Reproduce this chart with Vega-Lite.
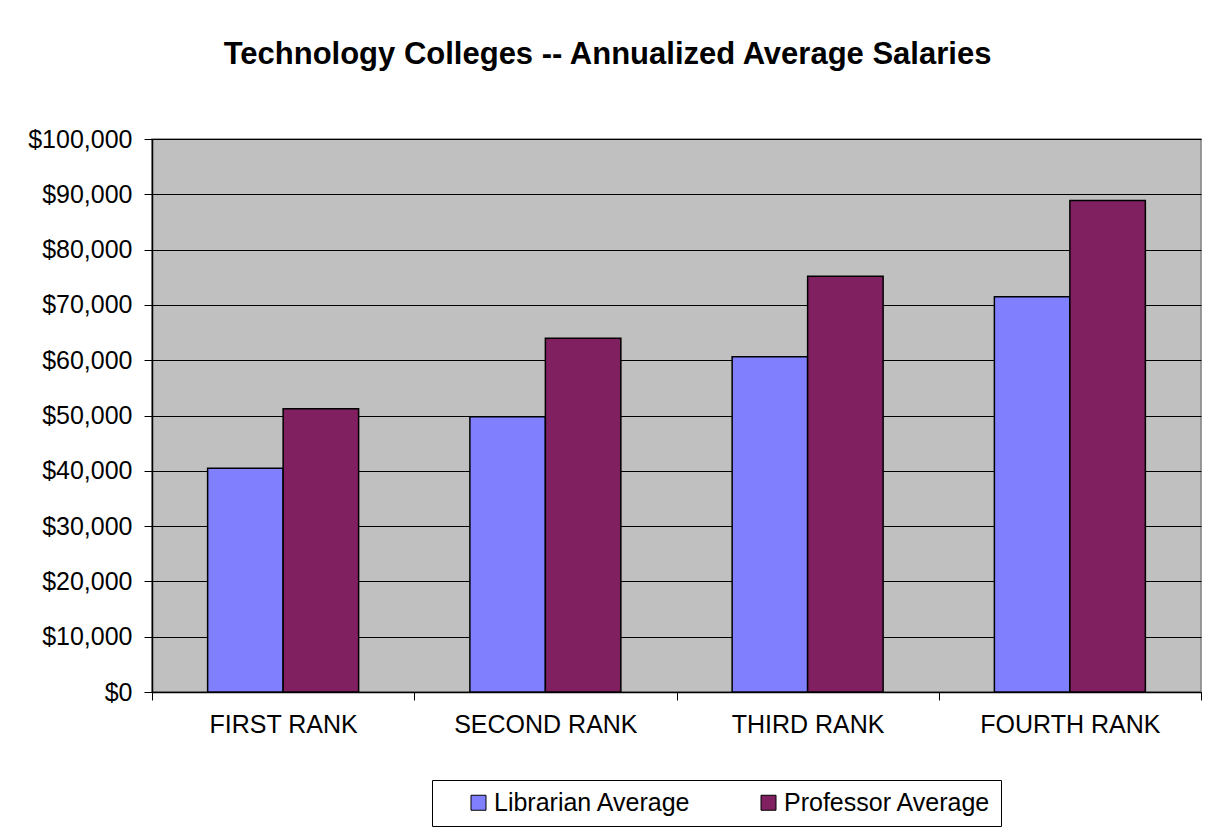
{
  "$schema": "https://vega.github.io/schema/vega-lite/v6.json",
  "autosize": "none",
  "width": 1049,
  "height": 553,
  "padding": {"left": 152, "top": 139, "right": 13, "bottom": 137},
  "background": "white",
  "title": {
    "text": "Technology Colleges -- Annualized Average Salaries",
    "font": "Liberation Sans",
    "fontSize": 31,
    "fontWeight": "bold",
    "color": "black",
    "anchor": "middle",
    "baseline": "alphabetic",
    "dx": -69,
    "offset": 32
  },
  "data": {
    "values": [
      {"rank": "FIRST RANK", "series": "Librarian Average", "salary": 40450},
      {"rank": "FIRST RANK", "series": "Professor Average", "salary": 51230},
      {"rank": "SECOND RANK", "series": "Librarian Average", "salary": 49790},
      {"rank": "SECOND RANK", "series": "Professor Average", "salary": 63960},
      {"rank": "THIRD RANK", "series": "Librarian Average", "salary": 60630},
      {"rank": "THIRD RANK", "series": "Professor Average", "salary": 75170},
      {"rank": "FOURTH RANK", "series": "Librarian Average", "salary": 71480},
      {"rank": "FOURTH RANK", "series": "Professor Average", "salary": 88900}
    ]
  },
  "mark": {"type": "bar", "stroke": "black", "strokeWidth": 1.5},
  "encoding": {
    "x": {
      "field": "rank",
      "type": "nominal",
      "sort": ["FIRST RANK", "SECOND RANK", "THIRD RANK", "FOURTH RANK"],
      "scale": {"paddingInner": 0, "paddingOuter": 0},
      "axis": {
        "title": null,
        "labelAngle": 0,
        "labelFont": "Liberation Sans",
        "labelFontSize": 25,
        "labelColor": "black",
        "labelPadding": 12,
        "labelLimit": 400,
        "tickBand": "extent",
        "tickSize": 8,
        "tickColor": "black",
        "domainColor": "black",
        "domainWidth": 1.5,
        "grid": false
      }
    },
    "xOffset": {
      "field": "series",
      "type": "nominal",
      "scale": {"paddingInner": 0, "paddingOuter": 0.737}
    },
    "y": {
      "field": "salary",
      "type": "quantitative",
      "scale": {"domain": [0, 100000], "nice": false},
      "axis": {
        "title": null,
        "values": [0, 10000, 20000, 30000, 40000, 50000, 60000, 70000, 80000, 90000, 100000],
        "format": "$,.0f",
        "labelFont": "Liberation Sans",
        "labelFontSize": 25,
        "labelColor": "black",
        "labelPadding": 12,
        "tickSize": 8,
        "tickColor": "black",
        "domainColor": "black",
        "domainWidth": 1.5,
        "grid": true,
        "gridColor": "black",
        "gridWidth": 1,
        "gridOpacity": 1
      }
    },
    "color": {
      "field": "series",
      "type": "nominal",
      "scale": {"domain": ["Librarian Average", "Professor Average"], "range": ["#8080FF", "#802060"]},
      "legend": {
        "title": null,
        "orient": "none",
        "legendX": 280,
        "legendY": 641,
        "direction": "horizontal",
        "fillColor": "white",
        "strokeColor": "black",
        "padding": 10,
        "symbolType": "square",
        "symbolSize": 225,
        "symbolStrokeColor": "black",
        "symbolStrokeWidth": 1,
        "symbolOffset": 24,
        "labelOffset": 3,
        "columnPadding": 41,
        "labelFont": "Liberation Sans",
        "labelFontSize": 25,
        "labelColor": "black",
        "labelLimit": 400,
        "labelExpr": "datum.label == 'Professor Average' ? datum.label + '\\u00a0\\u00a0\\u00a0' : datum.label"
      }
    }
  },
  "config": {
    "view": {"fill": "#C0C0C0", "stroke": "#808080", "strokeWidth": 1.5}
  }
}
